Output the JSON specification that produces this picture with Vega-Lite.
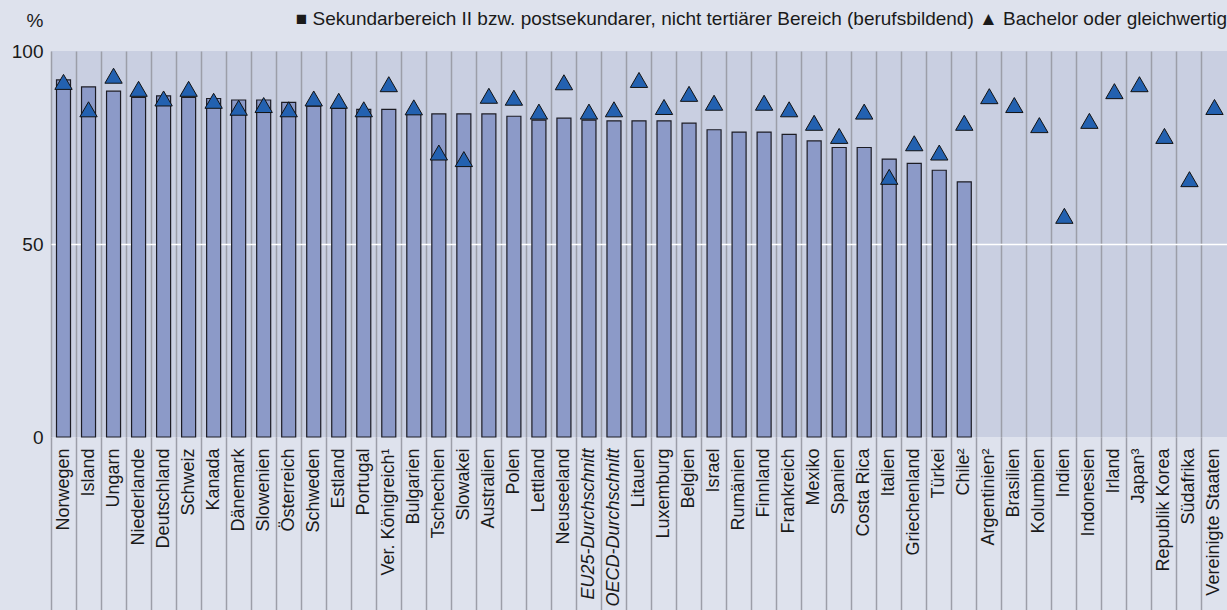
{
  "$schema": "https://vega.github.io/schema/vega-lite/v6.json",
  "width": 1176,
  "height": 386,
  "autosize": {"type": "none"},
  "padding": {"left": 51, "top": 51, "right": 0, "bottom": 173},
  "background": "#dee2ed",
  "config": {
    "view": {"fill": "#c9cfe1", "stroke": null},
    "font": "Liberation Sans"
  },
  "title": {
    "text": "■ Sekundarbereich II bzw. postsekundarer, nicht tertiärer Bereich (berufsbildend)    ▲ Bachelor oder gleichwertig",
    "anchor": "end",
    "orient": "top",
    "offset": -18,
    "fontSize": 19,
    "fontWeight": "normal",
    "color": "#1a1a1a",
    "font": "Liberation Sans"
  },
  "data": {
    "values": [
      {"land": "Norwegen", "art": "S", "wert": 92.5},
      {"land": "Island", "art": "S", "wert": 90.7},
      {"land": "Ungarn", "art": "S", "wert": 89.6},
      {"land": "Niederlande", "art": "S", "wert": 88.0},
      {"land": "Deutschland", "art": "S", "wert": 88.4},
      {"land": "Schweiz", "art": "S", "wert": 88.0},
      {"land": "Kanada", "art": "S", "wert": 87.7},
      {"land": "Dänemark", "art": "S", "wert": 87.3},
      {"land": "Slowenien", "art": "S", "wert": 87.3},
      {"land": "Österreich", "art": "S", "wert": 86.7},
      {"land": "Schweden", "art": "S", "wert": 85.7},
      {"land": "Estland", "art": "S", "wert": 85.1},
      {"land": "Portugal", "art": "S", "wert": 84.9},
      {"land": "Ver. Königreich¹", "art": "S", "wert": 84.9},
      {"land": "Bulgarien", "art": "S", "wert": 83.7},
      {"land": "Tschechien", "art": "S", "wert": 83.7},
      {"land": "Slowakei", "art": "S", "wert": 83.7},
      {"land": "Australien", "art": "S", "wert": 83.7},
      {"land": "Polen", "art": "S", "wert": 83.1},
      {"land": "Lettland", "art": "S", "wert": 82.1},
      {"land": "Neuseeland", "art": "S", "wert": 82.6},
      {"land": "EU25-Durchschnitt", "art": "S", "wert": 82.1},
      {"land": "OECD-Durchschnitt", "art": "S", "wert": 81.9},
      {"land": "Litauen", "art": "S", "wert": 81.9},
      {"land": "Luxemburg", "art": "S", "wert": 81.9},
      {"land": "Belgien", "art": "S", "wert": 81.3},
      {"land": "Israel", "art": "S", "wert": 79.6},
      {"land": "Rumänien", "art": "S", "wert": 79.0},
      {"land": "Finnland", "art": "S", "wert": 79.0},
      {"land": "Frankreich", "art": "S", "wert": 78.4},
      {"land": "Mexiko", "art": "S", "wert": 76.7},
      {"land": "Spanien", "art": "S", "wert": 75.0},
      {"land": "Costa Rica", "art": "S", "wert": 75.0},
      {"land": "Italien", "art": "S", "wert": 72.0},
      {"land": "Griechenland", "art": "S", "wert": 70.9},
      {"land": "Türkei", "art": "S", "wert": 69.1},
      {"land": "Chile²", "art": "S", "wert": 66.1},
      {"land": "Norwegen", "art": "B", "wert": 92.0},
      {"land": "Island", "art": "B", "wert": 84.9},
      {"land": "Ungarn", "art": "B", "wert": 93.6},
      {"land": "Niederlande", "art": "B", "wert": 90.2},
      {"land": "Deutschland", "art": "B", "wert": 87.7},
      {"land": "Schweiz", "art": "B", "wert": 90.2},
      {"land": "Kanada", "art": "B", "wert": 87.1},
      {"land": "Dänemark", "art": "B", "wert": 85.3},
      {"land": "Slowenien", "art": "B", "wert": 86.0},
      {"land": "Österreich", "art": "B", "wert": 84.9},
      {"land": "Schweden", "art": "B", "wert": 87.7},
      {"land": "Estland", "art": "B", "wert": 87.1},
      {"land": "Portugal", "art": "B", "wert": 84.9},
      {"land": "Ver. Königreich¹", "art": "B", "wert": 91.4},
      {"land": "Bulgarien", "art": "B", "wert": 85.4},
      {"land": "Tschechien", "art": "B", "wert": 73.7},
      {"land": "Slowakei", "art": "B", "wert": 72.0},
      {"land": "Australien", "art": "B", "wert": 88.4},
      {"land": "Polen", "art": "B", "wert": 87.9},
      {"land": "Lettland", "art": "B", "wert": 84.3},
      {"land": "Neuseeland", "art": "B", "wert": 91.9},
      {"land": "EU25-Durchschnitt", "art": "B", "wert": 84.3},
      {"land": "OECD-Durchschnitt", "art": "B", "wert": 84.9},
      {"land": "Litauen", "art": "B", "wert": 92.5},
      {"land": "Luxemburg", "art": "B", "wert": 85.5},
      {"land": "Belgien", "art": "B", "wert": 88.9},
      {"land": "Israel", "art": "B", "wert": 86.6},
      {"land": "Finnland", "art": "B", "wert": 86.6},
      {"land": "Frankreich", "art": "B", "wert": 84.9},
      {"land": "Mexiko", "art": "B", "wert": 81.4},
      {"land": "Spanien", "art": "B", "wert": 78.0},
      {"land": "Costa Rica", "art": "B", "wert": 84.3},
      {"land": "Italien", "art": "B", "wert": 67.4},
      {"land": "Griechenland", "art": "B", "wert": 76.1},
      {"land": "Türkei", "art": "B", "wert": 73.7},
      {"land": "Chile²", "art": "B", "wert": 81.4},
      {"land": "Argentinien²", "art": "B", "wert": 88.3},
      {"land": "Brasilien", "art": "B", "wert": 86.0},
      {"land": "Kolumbien", "art": "B", "wert": 80.8},
      {"land": "Indien", "art": "B", "wert": 57.3},
      {"land": "Indonesien", "art": "B", "wert": 81.9},
      {"land": "Irland", "art": "B", "wert": 89.6},
      {"land": "Japan³", "art": "B", "wert": 91.4},
      {"land": "Republik Korea", "art": "B", "wert": 78.0},
      {"land": "Südafrika", "art": "B", "wert": 66.8},
      {"land": "Vereinigte Staaten", "art": "B", "wert": 85.5}
    ]
  },
  "layer": [
    {
      "transform": [{"filter": "datum.art === 'S'"}],
      "mark": {"type": "bar", "width": {"band": 0.56}, "stroke": "#1c1c24", "strokeWidth": 1.2, "fill": "#8c9ac8"},
      "encoding": {
        "x": {
          "field": "land",
          "type": "nominal",
          "scale": {
            "domain": ["Norwegen", "Island", "Ungarn", "Niederlande", "Deutschland", "Schweiz", "Kanada", "Dänemark", "Slowenien", "Österreich", "Schweden", "Estland", "Portugal", "Ver. Königreich¹", "Bulgarien", "Tschechien", "Slowakei", "Australien", "Polen", "Lettland", "Neuseeland", "EU25-Durchschnitt", "OECD-Durchschnitt", "Litauen", "Luxemburg", "Belgien", "Israel", "Rumänien", "Finnland", "Frankreich", "Mexiko", "Spanien", "Costa Rica", "Italien", "Griechenland", "Türkei", "Chile²", "Argentinien²", "Brasilien", "Kolumbien", "Indien", "Indonesien", "Irland", "Japan³", "Republik Korea", "Südafrika", "Vereinigte Staaten"],
            "paddingInner": 0,
            "paddingOuter": 0
          },
          "axis": {
            "title": null,
            "domain": false,
            "bandPosition": 0,
            "ticks": true,
            "tickSize": 173,
            "tickWidth": 1.5,
            "tickColor": "#9c9ea8",
            "grid": true,
            "gridWidth": 1.5,
            "gridColor": "#9c9ea8",
            "labelAngle": -90,
            "labelAlign": "right",
            "labelBaseline": "middle",
            "labelPadding": -162,
            "labelFontSize": 18,
            "labelColor": "#1a1a1a",
            "labelFontStyle": {"condition": {"test": "indexof(datum.value, 'Durchschnitt') >= 0", "value": "italic"}, "value": "normal"}
          }
        },
        "y": {
          "field": "wert",
          "type": "quantitative",
          "scale": {"domain": [0, 100], "nice": false},
          "axis": {
            "values": [0, 50, 100],
            "domain": false,
            "ticks": false,
            "grid": true,
            "gridColor": "#ffffff",
            "gridWidth": 1.5,
            "gridOpacity": {"condition": {"test": "datum.value === 50", "value": 1}, "value": 0},
            "labelPadding": 8,
            "labelFontSize": 19,
            "labelColor": "#1a1a1a",
            "title": "%",
            "titleAngle": 0,
            "titleAlign": "right",
            "titleBaseline": "middle",
            "titleX": -8,
            "titleY": -31,
            "titleFontSize": 19,
            "titleFontWeight": "normal",
            "titleColor": "#1a1a1a"
          }
        }
      }
    },
    {
      "transform": [{"filter": "datum.art === 'B'"}],
      "mark": {"type": "point", "filled": true, "opacity": 1, "size": 300, "stroke": "#111111", "strokeWidth": 1, "shape": "triangle-up", "fill": "#2361b0"},
      "encoding": {
        "x": {"field": "land", "type": "nominal"},
        "y": {"field": "wert", "type": "quantitative"}
      }
    }
  ]
}
